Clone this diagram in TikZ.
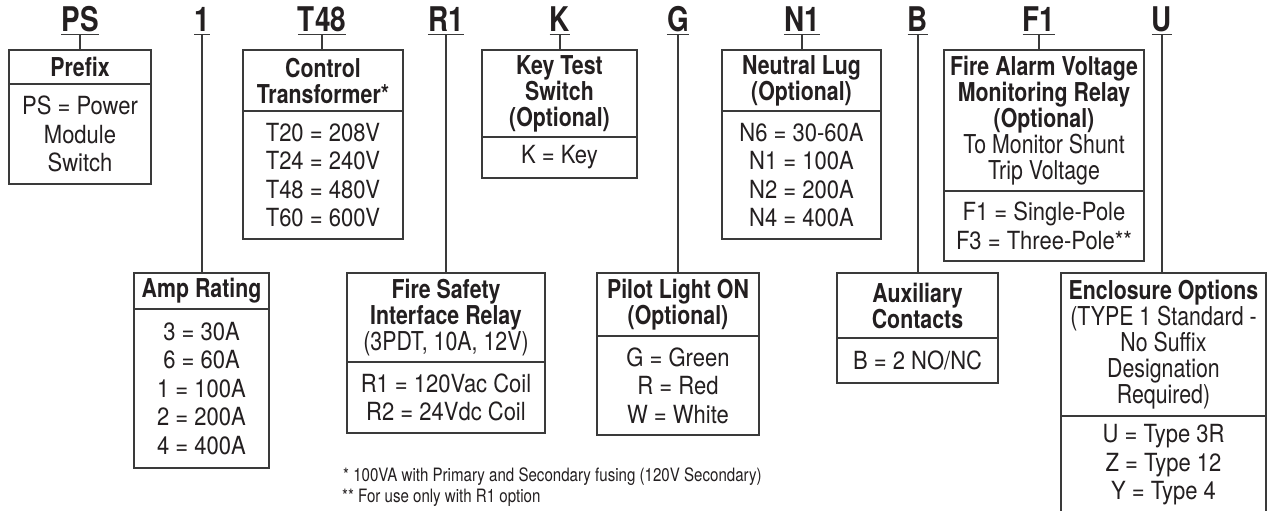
\documentclass[tikz,border=0pt]{standalone}
\usepackage{fontspec}
\setmainfont{TeX Gyre Heros}[FakeStretch=0.82]
\newfontfamily\bodyfam{TeX Gyre Heros}[FakeStretch=0.88]
\usetikzlibrary{positioning}
\definecolor{SwitchInk}{HTML}{231F20}
\definecolor{SwitchLine}{HTML}{3A3A3A}
\newcommand\codefont{\fontsize{34}{36}\selectfont\bfseries}
\newcommand\headfont{\fontsize{26}{26}\selectfont\bfseries}
\newcommand\bodyfont{\bodyfam\fontsize{25}{28.5}\selectfont}
\newcommand\notefont{\fontsize{18.4}{20}\selectfont}

\begin{document}
\begin{tikzpicture}[x=1pt,y=-1pt,
  every node/.style={text=SwitchInk},
  code/.style={font=\codefont,anchor=base,inner xsep=0pt,inner ysep=2pt,text depth=0pt},
  head/.style n args={2}{draw=SwitchLine,line width=1.2pt,outer sep=0pt,inner sep=0pt,align=center,font=\headfont,anchor=north,minimum width=#1,minimum height=#2},
  body/.style n args={2}{draw=SwitchLine,line width=1.2pt,outer sep=0pt,inner sep=0pt,align=center,font=\bodyfont,minimum width=#1,minimum height=#2},
  stem/.style={draw=SwitchLine,line width=1.2pt},
  note/.style={font=\notefont,anchor=base west,inner sep=0pt}]
\path[use as bounding box] (0,0) rectangle (1274,511);
\clip (0,0) rectangle (1274,511);
% catalogue number
\node[code] (cPS) at (80,32) {PS};
\node[code] (cAmp) at (202,32) {1};
\node[code] (cXfmr) at (322,32) {T48};
\node[code] (cRelay) at (446,32) {R1};
\node[code] (cKey) at (560,32) {K};
\node[code] (cPilot) at (678,32) {G};
\node[code] (cLug) at (802,32) {N1};
\node[code] (cAux) at (918,32) {B};
\node[code] (cAlarm) at (1039,32) {F1};
\node[code] (cEncl) at (1162,32) {U};
% upper row
\node[head={142pt}{34pt}] (prefixH) at (80,50) {Prefix};
\node[body={142pt}{100pt},below=0pt of prefixH] (prefixB) {PS = Power\\Module\\Switch};
\node[head={160pt}{61pt}] (xfmrH) at (323,50) {Control\\Transformer*};
\node[body={160pt}{128pt},below=0pt of xfmrH] (xfmrB) {T20 = 208V\\T24 = 240V\\T48 = 480V\\T60 = 600V};
\node[head={155pt}{87pt}] (keyH) at (559.5,50) {Key Test\\Switch\\(Optional)};
\node[body={155pt}{41pt},below=0pt of keyH] (keyB) {K = Key};
\node[head={159pt}{61pt}] (lugH) at (801.5,50) {Neutral Lug\\(Optional)};
\node[body={159pt}{128pt},below=0pt of lugH] (lugB) {N6 = 30-60A\\N1 = 100A\\N2 = 200A\\N4 = 400A};
\node[head={200pt}{141pt}] (alarmH) at (1044,50) {Fire Alarm Voltage\\Monitoring Relay\\(Optional)\\\mdseries To Monitor Shunt\\\mdseries Trip Voltage};
\node[body={200pt}{70pt},below=0pt of alarmH] (alarmB) {F1 = Single-Pole\\F3 = Three-Pole**};
% lower row
\node[head={135pt}{36pt}] (ampH) at (201.5,273) {Amp Rating};
\node[body={135pt}{159pt},below=0pt of ampH] (ampB) {3 = 30A\\6 = 60A\\1 = 100A\\2 = 200A\\4 = 400A};
\node[head={198pt}{89pt}] (relayH) at (446,273) {Fire Safety\\Interface Relay\\\mdseries(3PDT, 10A, 12V)};
\node[body={198pt}{71pt},below=0pt of relayH] (relayB) {R1 = 120Vac Coil\\R2 = 24Vdc Coil};
\node[head={162pt}{63pt}] (pilotH) at (678,273) {Pilot Light ON\\(Optional)};
\node[body={162pt}{99pt},below=0pt of pilotH] (pilotB) {G = Green\\R = Red\\W = White};
\node[head={161pt}{65pt}] (auxH) at (917.5,273) {Auxiliary\\Contacts};
\node[body={161pt}{45pt},below=0pt of auxH] (auxB) {B = 2 NO/NC};
\node[head={205pt}{143pt}] (enclH) at (1163.5,273) {Enclosure Options\\\mdseries(TYPE 1 Standard -\\\mdseries No Suffix\\\mdseries Designation\\\mdseries Required)};
\node[body={205pt}{98pt},below=0pt of enclH] (enclB) {U = Type 3R\\Z = Type 12\\Y = Type 4};
% underlines and leaders
\foreach \c/\b in {cPS/prefixH,cAmp/ampH,cXfmr/xfmrH,cRelay/relayH,cKey/keyH,cPilot/pilotH,cLug/lugH,cAux/auxH,cAlarm/alarmH,cEncl/enclH}
  \draw[stem] (\c.south west) -- (\c.south east) (\c.south) -- (\c.south |- \b.north);
% footnotes
\node[note] (noteA) at (343,481) {* 100VA with Primary and Secondary fusing (120V Secondary)};
\node[note] (noteB) at (342,502) {** For use only with R1 option};
\end{tikzpicture}
\end{document}
